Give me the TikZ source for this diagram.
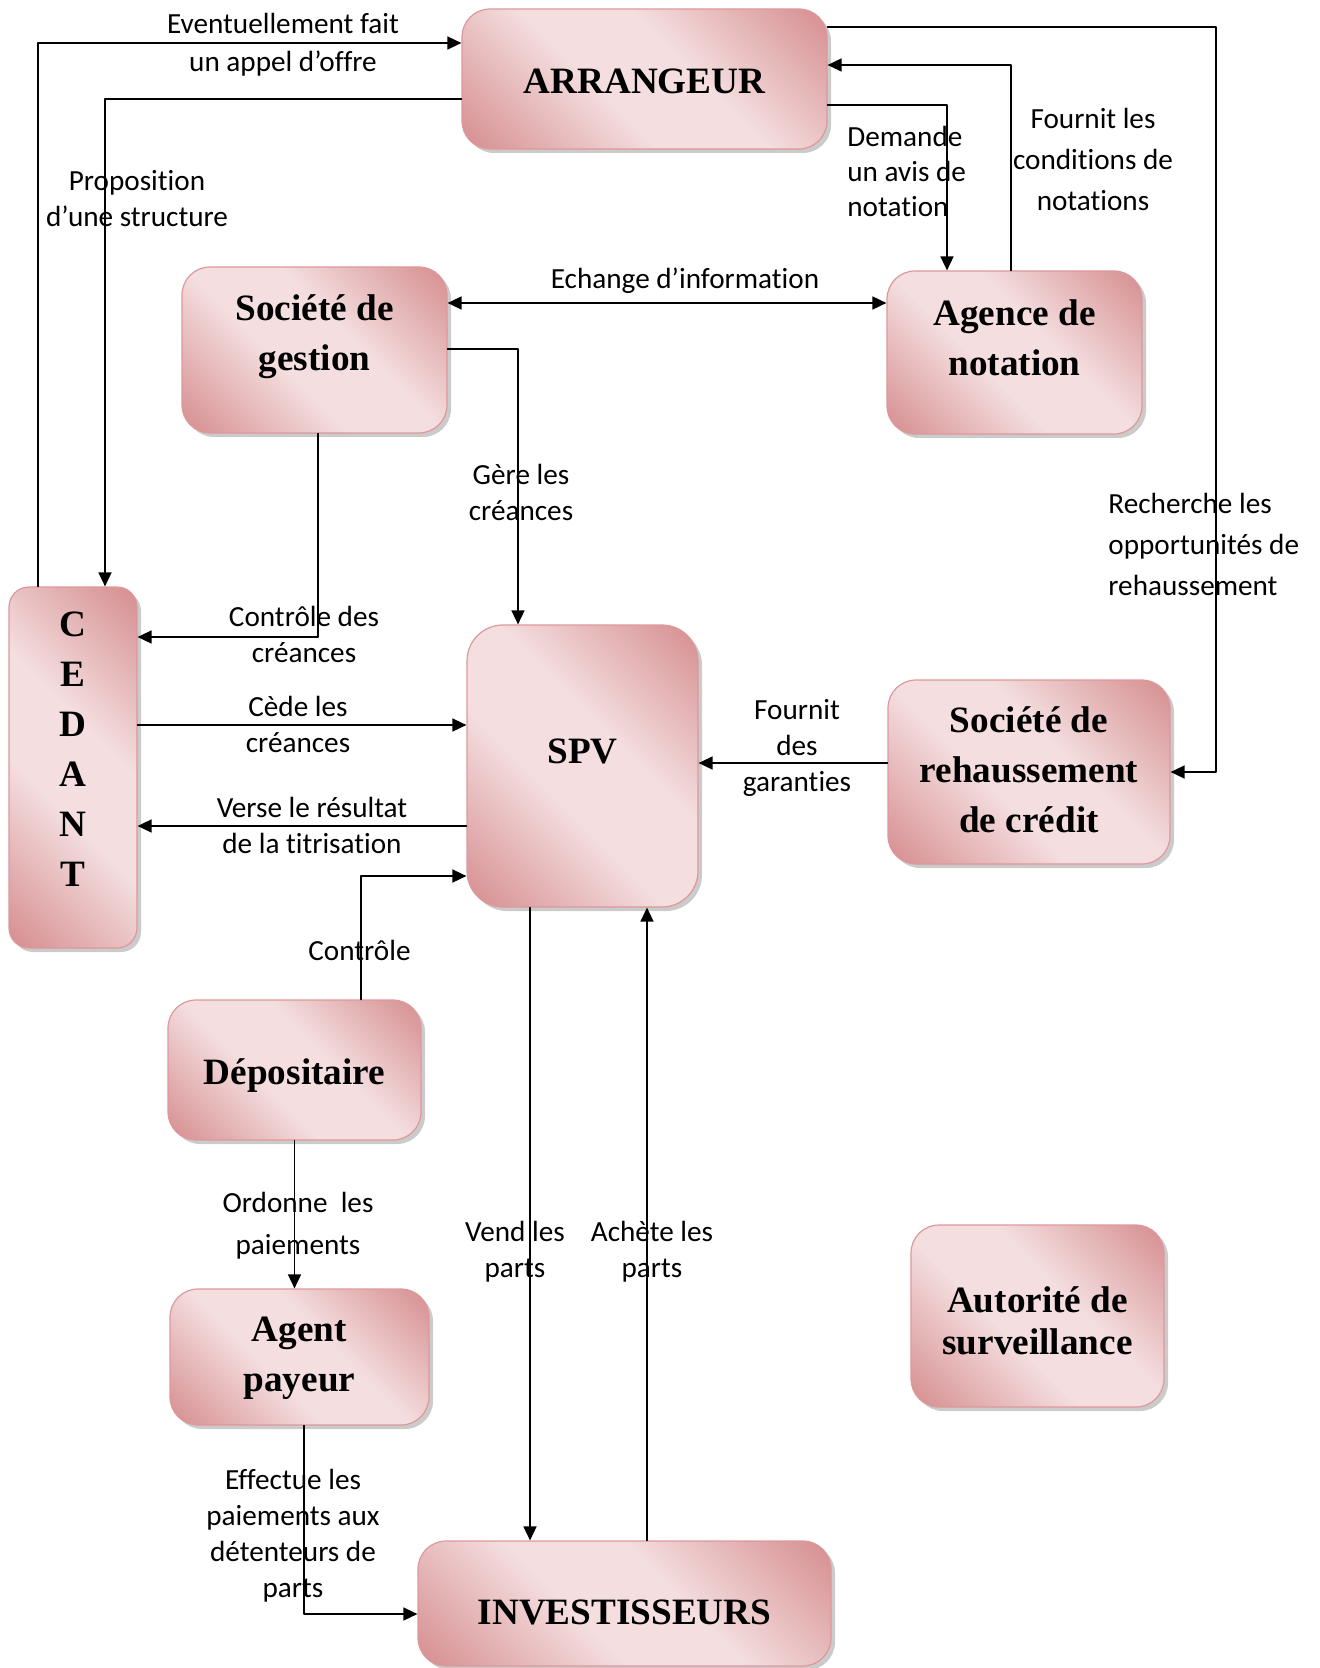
\documentclass[tikz,border=0pt]{standalone}
\usepackage{fontspec}
\setmainfont{Liberation Serif}
\newfontfamily\labelfont{Carlito}[Ligatures=CommonOff]
\usetikzlibrary{arrows.meta,shadows}

\definecolor{boxdark}{RGB}{214,142,144}
\definecolor{boxlight}{RGB}{244,222,223}
\definecolor{boxedge}{RGB}{222,152,154}
\pgfdeclarehorizontalshading{boxband}{100bp}{%
  color(0bp)=(boxdark); color(15bp)=(boxdark); color(42bp)=(boxlight);
  color(58bp)=(boxlight); color(85bp)=(boxdark); color(100bp)=(boxdark)}

\begin{document}
\begin{tikzpicture}[
  x=0.5pt,
  y=-0.5pt,
  line cap=round,
  line join=round,
  box/.style={draw=boxedge,line width=0.6pt,rounded corners=14pt,
    shade,shading=boxband,shading angle=45,inner sep=0pt,
    drop shadow={shadow xshift=2pt,shadow yshift=-2pt,
      fill=black!45,opacity=0.45}},
  boxtext/.style={font=\fontsize{18.6}{25}\selectfont\bfseries,align=center},
  flow/.style={font=\labelfont\fontsize{14.6}{#1}\selectfont,
    align=center,inner sep=0pt},
  flow/.default=18,
  link/.style={line width=0.8pt},
  arrow/.style={link,-{Triangle[length=7pt,width=6.5pt]}},
  both/.style={link,{Triangle[length=7pt,width=6.5pt]}-{Triangle[length=7pt,width=6.5pt]}}
]
  \useasboundingbox (0,0) rectangle (1320,1668);

  % Actors of the operation
  \node[box,minimum width=182.5pt,minimum height=70pt,
    label={[boxtext,yshift=-1pt]center:ARRANGEUR}] (arrangeur) at (644.5,79) {};
  \node[box,minimum width=132.5pt,minimum height=83pt,
    label={[boxtext,yshift=6.5pt]center:Société de\\gestion}]
    (gestion) at (314.5,350) {};
  \node[box,minimum width=127.5pt,minimum height=81.5pt,
    label={[boxtext,yshift=7.5pt]center:Agence de\\notation}]
    (agence) at (1014.5,352.5) {};
  \node[box,rounded corners=10pt,minimum width=64pt,minimum height=180.5pt,
    label={[boxtext,yshift=9pt]center:C\\E\\D\\A\\N\\T}]
    (cedant) at (73,767.5) {};
  \node[box,rounded corners=18pt,minimum width=115.5pt,minimum height=141pt,
    label={[boxtext,yshift=7.5pt]center:SPV}] (spv) at (582.5,766) {};
  \node[box,minimum width=141pt,minimum height=92pt,
    label={[boxtext,yshift=1pt]center:Société de\\rehaussement\\de crédit}]
    (rehaussement) at (1029,772) {};
  \node[box,minimum width=126.5pt,minimum height=70pt,
    label={[boxtext,yshift=-3pt]center:Dépositaire}] (depositaire) at (294.5,1070) {};
  \node[box,minimum width=129.5pt,minimum height=68pt,
    label={[boxtext,yshift=-0.5pt]center:Agent\\payeur}] (agent) at (299.5,1357) {};
  \node[box,minimum width=126.5pt,minimum height=91pt,
    label={[boxtext,font=\fontsize{18.6}{21}\selectfont\bfseries,yshift=-2.5pt]
      center:Autorité de\\surveillance}] (autorite) at (1037.5,1316) {};
  \node[box,minimum width=206.5pt,minimum height=62.5pt,
    label={[boxtext,yshift=-4.5pt]center:INVESTISSEURS}]
    (investisseurs) at (624.5,1603.5) {};

  % Links with the arrangeur
  \draw[arrow] (cedant.north -| 38,0) |- (arrangeur.west |- 0,43);
  \draw[arrow] (arrangeur.west |- 0,99) -| (cedant.north -| 105,0);
  \draw[arrow] (arrangeur.east |- 0,105) -| (agence.north -| 947,0);
  \draw[arrow] (agence.north -| 1011,0) |- (arrangeur.east |- 0,65);
  \draw[arrow] (arrangeur.east |- 0,27) -| (rehaussement.east -| 1216,0)
    -- (rehaussement.east);

  % Links around the SPV
  \draw[both] (gestion.east |- 0,303) -- (agence.west |- 0,303);
  \draw[arrow] (gestion.east |- 0,349) -| (spv.north -| 518,0);
  \draw[arrow] (gestion.south -| 318,0) |- (cedant.east |- 0,637);
  \draw[arrow] (cedant.east |- 0,725) -- (spv.west |- 0,725);
  \draw[arrow] (spv.west |- 0,826) -- (cedant.east |- 0,826);
  \draw[arrow] (rehaussement.west |- 0,763) -- (spv.east |- 0,763);
  \draw[arrow] (depositaire.north -| 361,0) |- (spv.west |- 0,876);

  % Payments and shares
  \draw[arrow] (depositaire.south) -- (agent.north -| depositaire.south);
  \draw[arrow] (spv.south -| 530,0) -- (investisseurs.north -| 530,0);
  \draw[arrow] (investisseurs.north -| 647,0) -- (spv.south -| 647,0);
  \draw[arrow] (agent.south -| 304,0) |- (investisseurs.west |- 0,1614);

  % Flow labels
  \node[flow=19] (appel) at (283,45) {Eventuellement fait\\un appel d’offre};
  \node[flow] (proposition) at (137,199) {Proposition\\d’une structure};
  \node[flow=17.5,anchor=west,align=left] (demande) at (847,171)
    {Demande\\un avis de\\notation};
  \node[flow=20.5] (conditions) at (1093,159)
    {Fournit les\\conditions de\\notations};
  \node[flow=20.5,anchor=west,align=left] (recherche) at (1108,544)
    {Recherche les\\opportunités de\\rehaussement};
  \node[flow] (echange) at (685,281) {Echange d’information};
  \node[flow] (gere) at (521,492) {Gère les\\créances};
  \node[flow] (controlecreances) at (304,634) {Contrôle des\\créances};
  \node[flow] (cede) at (298,724) {Cède les\\créances};
  \node[flow] (garanties) at (797,748) {Fournit\\des\\garanties};
  \node[flow] (verse) at (312,825) {Verse le résultat\\de la titrisation};
  \node[flow] (controle) at (359.5,950) {Contrôle};
  \node[flow=21] (ordonne) at (298,1226) {Ordonne~ les\\paiements};
  \node[flow] (vend) at (515,1252) {Vend les\\parts};
  \node[flow] (achete) at (652,1252) {Achète les\\parts};
  \node[flow] (effectue) at (293,1536)
    {Effectue les\\paiements aux\\détenteurs de\\parts};

\end{tikzpicture}
\end{document}
